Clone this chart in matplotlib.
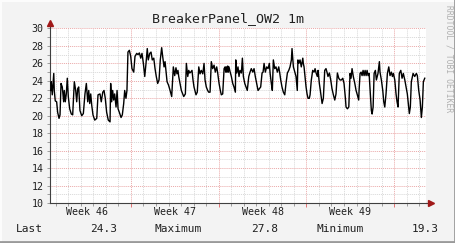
import matplotlib
matplotlib.use('Agg')
import matplotlib.pyplot as plt
from matplotlib.lines import Line2D

# readings, time in days since start of window, value in degrees
days = [0.02, 0.06, 0.14, 0.26, 0.30, 0.38, 0.49, 0.57, 0.68, 0.76, 0.84, 0.94,
        1.05, 1.10, 1.18, 1.26, 1.34, 1.42, 1.53, 1.66, 1.77, 1.90, 2.01, 2.09,
        2.17, 2.25, 2.35, 2.49, 2.62, 2.75, 2.86, 2.97, 3.05, 3.13, 3.21, 3.29,
        3.39, 3.53, 3.69, 3.79, 3.95, 4.05, 4.17, 4.27, 4.37, 4.48, 4.61, 4.75,
        4.80, 4.88, 4.96, 5.04, 5.12, 5.23, 5.31, 5.39, 5.49, 5.63, 5.73, 5.84,
        5.92, 6.02, 6.10, 6.18, 6.29, 6.40, 6.50, 6.64, 6.74, 6.88, 6.98, 7.09,
        7.20, 7.30, 7.41, 7.52, 7.62, 7.72, 7.80, 7.92, 8.02, 8.12, 8.24, 8.34,
        8.44, 8.55, 8.66, 8.76, 8.87, 8.95, 9.06, 9.14, 9.22, 9.30, 9.42, 9.54,
        9.67, 9.80, 9.91, 10.01, 10.09, 10.17, 10.23, 10.31, 10.44, 10.55, 10.63, 10.76,
        10.84, 10.95, 11.03, 11.11, 11.19, 11.29, 11.37, 11.45, 11.56, 11.61, 11.71, 11.83,
        11.93, 12.03, 12.15, 12.25, 12.33, 12.43, 12.54, 12.62, 12.73, 12.83, 12.94, 13.05,
        13.15, 13.26, 13.34, 13.45, 13.55, 13.63, 13.74, 13.85, 13.93, 13.98, 14.03, 14.08,
        14.14, 14.19, 14.24, 14.32, 14.43, 14.54, 14.64, 14.75, 14.78, 14.86, 14.96, 15.04,
        15.12, 15.23, 15.31, 15.39, 15.50, 15.60, 15.70, 15.82, 15.92, 16.02, 16.14, 16.24,
        16.34, 16.45, 16.56, 16.66, 16.77, 16.88, 16.96, 17.04, 17.14, 17.25, 17.36, 17.46,
        17.52, 17.62, 17.70, 17.78, 17.89, 17.99, 18.10, 18.21, 18.29, 18.37, 18.47, 18.58,
        18.69, 18.79, 18.90, 19.01, 19.11, 19.22, 19.27, 19.38, 19.49, 19.59, 19.69, 19.74,
        19.81, 19.91, 20.01, 20.13, 20.17, 20.23, 20.33, 20.39, 20.47, 20.55, 20.65, 20.71,
        20.81, 20.92, 21.03, 21.11, 21.19, 21.29, 21.35, 21.45, 21.53, 21.61, 21.67, 21.77,
        21.88, 21.98, 22.06, 22.14, 22.25, 22.36, 22.46, 22.57, 22.68, 22.78, 22.89, 23.00,
        23.10, 23.21, 23.32, 23.42, 23.53, 23.58, 23.69, 23.80, 23.90, 23.98, 24.06, 24.16,
        24.28, 24.38, 24.48, 24.59, 24.62, 24.70, 24.78, 24.86, 24.94, 25.02, 25.10, 25.18,
        25.26, 25.34, 25.42, 25.50, 25.55, 25.60, 25.66, 25.74, 25.82, 25.92, 26.00, 26.13,
        26.24, 26.29, 26.40, 26.51, 26.59, 26.67, 26.77, 26.88, 26.99, 27.09, 27.20, 27.28,
        27.36, 27.47, 27.57, 27.65, 27.73, 27.83, 27.95, 28.05, 28.15, 28.27, 28.37, 28.47,
        28.58, 28.63, 28.71, 28.79, 28.93, 29.06, 29.19, 29.27, 29.38, 29.49, 29.59, 29.67,
        29.75, 29.86]
temps = [22.9, 23.9, 22.4, 24.85, 22.9, 21.7, 21.6, 20.4, 19.7, 20.1, 23.7, 23.3,
         21.6, 22.9, 21.6, 22.5, 24.3, 22.2, 20.8, 20.2, 20.1, 23.9, 22.9, 21.6,
         23.1, 23.3, 20.6, 20.0, 20.25, 22.5, 23.7, 21.6, 22.9, 21.4, 22.5, 21.2,
         20.1, 19.5, 19.7, 22.4, 22.5, 21.6, 22.7, 22.9, 22.0, 20.4, 19.5, 19.3,
         23.7, 21.6, 22.9, 21.8, 22.5, 21.0, 22.9, 20.8, 20.4, 19.8, 20.1, 21.4,
         22.9, 22.0, 22.9, 27.3, 27.5, 26.8, 25.4, 25.0, 26.8, 27.15, 27.0, 27.2,
         26.6, 27.15, 26.0, 24.5, 26.0, 27.7, 26.4, 27.15, 27.3, 26.4, 26.6, 25.4,
         24.5, 23.7, 24.1, 26.4, 27.8, 26.8, 25.6, 26.2, 25.0, 23.9, 23.5, 22.9,
         22.2, 25.6, 24.6, 25.5, 24.8, 25.2, 24.5, 23.9, 22.9, 22.5, 22.2, 22.5,
         26.0, 24.5, 25.2, 24.9, 25.0, 25.2, 24.1, 23.3, 22.7, 22.4, 22.7, 25.6,
         24.8, 25.2, 24.8, 26.0, 24.1, 23.3, 22.9, 22.7, 22.7, 26.2, 25.4, 25.8,
         25.0, 25.6, 24.9, 23.7, 22.9, 22.4, 22.5, 25.4, 25.6, 25.0, 25.6, 25.0,
         25.7, 25.0, 25.6, 25.1, 24.5, 23.7, 23.3, 22.7, 26.4, 24.9, 25.6, 24.5,
         25.2, 24.9, 26.6, 24.5, 23.7, 23.3, 22.9, 24.5, 25.0, 25.4, 25.0, 25.4,
         24.5, 23.7, 22.9, 23.1, 23.3, 24.9, 25.0, 26.0, 25.0, 25.6, 25.4, 26.0,
         24.9, 23.7, 22.9, 26.4, 25.4, 25.6, 25.0, 25.6, 24.9, 24.1, 23.3, 22.7,
         22.4, 23.7, 24.9, 25.2, 25.6, 26.4, 27.7, 25.6, 25.0, 24.5, 22.9, 26.4,
         26.0, 26.4, 25.6, 26.6, 26.0, 25.6, 24.1, 23.3, 22.5, 22.0, 22.0, 22.4,
         24.1, 25.2, 25.0, 25.4, 24.9, 24.5, 25.2, 23.7, 22.9, 22.0, 21.4, 22.0,
         25.2, 25.4, 25.0, 24.5, 24.9, 24.1, 23.1, 22.4, 21.8, 22.5, 24.9, 24.3,
         24.1, 24.1, 24.3, 23.7, 22.0, 21.0, 20.8, 21.0, 24.85, 24.3, 25.4, 24.5,
         23.7, 22.9, 22.4, 21.8, 22.9, 24.85, 25.0, 24.6, 25.2, 24.6, 25.2, 24.6,
         25.2, 24.6, 24.85, 22.9, 21.8, 20.6, 20.2, 21.0, 24.85, 25.2, 24.1, 24.85,
         26.2, 25.0, 24.1, 22.9, 21.6, 21.0, 22.5, 24.85, 25.6, 24.6, 25.0, 24.5,
         24.85, 24.1, 22.5, 21.6, 21.0, 24.85, 25.2, 24.3, 24.85, 24.1, 23.3, 22.5,
         21.0, 20.25, 21.0, 23.9, 24.85, 24.5, 24.85, 24.6, 22.9, 21.8, 19.8, 21.0,
         23.9, 24.3]

week_names = ['Week 46', 'Week 47', 'Week 48', 'Week 49']
week_starts = [-0.58, 6.42, 13.42, 20.42, 27.42]
y_ticks = [10, 12, 14, 16, 18, 20, 22, 24, 26, 28, 30]

mono = 'DejaVu Sans Mono'
W, H = 456, 243

fig = plt.figure(figsize=(W / 100, H / 100), dpi=100, facecolor='#f3f3f3')
ax = fig.add_axes([50.5 / W, 40 / H, 376 / W, 174.5 / H])
ax.set_facecolor('white')

ax.set_xlim(0, 30)
ax.set_ylim(10, 30)

# grid: grey dotted per day / per degree, red dotted per week / 2 degrees
ax.set_xticks([d + 0.42 for d in range(30)], minor=True)
ax.set_xticks(week_starts[1:])
ax.set_xticklabels([])
ax.set_yticks(range(10, 31), minor=True)
ax.set_yticks(y_ticks)
ax.set_yticklabels([str(v) for v in y_ticks], family=mono, fontsize=7.2, color='#202020')
ax.grid(which='minor', color='#d8d8d8', linestyle=(0, (1, 1)), linewidth=0.7)
ax.grid(which='major', color='#eaa8a8', linestyle=(0, (1, 1)), linewidth=0.7)
ax.set_axisbelow(True)
ax.tick_params(which='both', length=2, width=0.6, color='#909090', pad=3)
ax.tick_params(axis='x', which='major', color='#e06060', length=3)

for s in ['top', 'right']:
    ax.spines[s].set_visible(False)
for s in ['left', 'bottom']:
    ax.spines[s].set_color('#404040')
    ax.spines[s].set_linewidth(0.8)

# axis extensions with arrow heads
ax.plot([1.0, 1.01], [0, 0], transform=ax.transAxes, color='#404040', lw=0.8, clip_on=False)
ax.plot([0, 0], [1.0, 1.025], transform=ax.transAxes, color='#404040', lw=0.8, clip_on=False)
ax.plot([1.013], [0], marker='>', markersize=4, color='#a01818', transform=ax.transAxes, clip_on=False)
ax.plot([0], [1.03], marker='^', markersize=4, color='#a01818', transform=ax.transAxes, clip_on=False)

ax.plot(days, temps, color='black', linewidth=1.0, zorder=3)

for name, start in zip(week_names, week_starts):
    ax.text(start + 3.5, -0.052, name, transform=ax.get_xaxis_transform(),
            ha='center', va='center', family=mono, fontsize=7.2, color='#202020')

fig.text(228 / W, 1 - 19 / H, 'BreakerPanel_OW2 1m', ha='center', va='center',
         family=mono, fontsize=9.5, color='#202020')
fig.text(449 / W, 1 - 59 / H, 'RRDTOOL / TOBI OETIKER', rotation=270, ha='center', va='center',
         family=mono, fontsize=5.8, color='#b0b0b0')

# legend line
ly = 1 - 229 / H
fig.text(16 / W, ly, 'Last', ha='left', va='center', family=mono, fontsize=8, color='#202020')
fig.text(117 / W, ly, '%.1f' % temps[-1], ha='right', va='center', family=mono, fontsize=8, color='#202020')
fig.text(155 / W, ly, 'Maximum', ha='left', va='center', family=mono, fontsize=8, color='#202020')
fig.text(278 / W, ly, '%.1f' % max(temps), ha='right', va='center', family=mono, fontsize=8, color='#202020')
fig.text(317 / W, ly, 'Minimum', ha='left', va='center', family=mono, fontsize=8, color='#202020')
fig.text(439 / W, ly, '%.1f' % min(temps), ha='right', va='center', family=mono, fontsize=8, color='#202020')

# 3d frame of the canvas
fig.add_artist(Line2D([0, 1], [1 - 1 / H, 1 - 1 / H], transform=fig.transFigure, color='#fcfcfc', lw=1.5))
fig.add_artist(Line2D([1 / W, 1 / W], [0, 1], transform=fig.transFigure, color='#fcfcfc', lw=1.5))
fig.add_artist(Line2D([0, 1], [1 / H, 1 / H], transform=fig.transFigure, color='#9a9a9a', lw=2))
fig.add_artist(Line2D([1 - 1 / W, 1 - 1 / W], [0, 1], transform=fig.transFigure, color='#9a9a9a', lw=2))

fig.savefig('out.png', dpi=100, facecolor=fig.get_facecolor())
